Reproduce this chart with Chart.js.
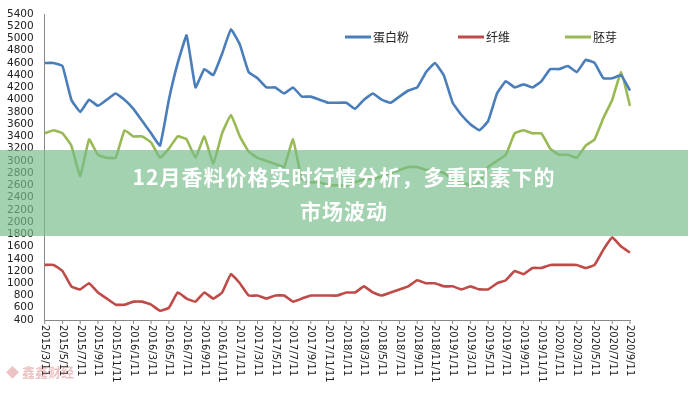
<!DOCTYPE html>
<html><head><meta charset="utf-8">
<script src="https://cdn.jsdelivr.net/npm/chart.js@4"></script>
<style>
body{margin:0;background:#fff;width:688px;height:400px;overflow:hidden;font-family:"Noto Sans CJK SC",sans-serif}
#wrap{position:relative;width:688px;height:400px}
#banner{position:absolute;left:0;top:150px;width:688px;height:86px;background:rgba(118,188,138,0.68);color:#fff;font-weight:bold;font-size:21px;text-align:center;line-height:34px;padding-top:9px;box-sizing:border-box;letter-spacing:1px}
#wm{position:absolute;left:6px;top:362px;color:rgba(200,80,80,0.35);font-size:13px;font-weight:bold}
</style></head><body>
<div id="wrap"><canvas id="c" width="688" height="400"></canvas>
<div id="banner">12月香料价格实时行情分析，多重因素下的<br>市场波动</div>
<div id="wm">◆ 鑫鑫财经</div></div>
<script>
const categories=[];for(let i=0;i<67;i++){const m=3+i;const y=2015+Math.floor((m-1)/12);const mm=((m-1)%12)+1;categories.push(y+'/'+mm+'/11');}
const seriesNames=['蛋白粉','纤维','胚芽'];
const protein=[4600,4600,4550,4000,3800,4000,3900,4000,4100,4000,3850,3650,3450,3250,4000,4600,5050,4200,4500,4400,4750,5150,4900,4450,4350,4200,4200,4100,4200,4050,4050,4000,3950,3950,3950,3850,4000,4100,4000,3950,4050,4150,4200,4450,4600,4400,3950,3750,3600,3500,3650,4100,4300,4200,4250,4200,4300,4500,4500,4550,4450,4650,4600,4350,4350,4400,4150];
const fiber=[1300,1300,1200,950,900,1000,850,750,650,650,700,700,650,550,600,850,750,700,850,750,850,1150,1000,800,800,750,800,800,700,750,800,800,800,800,850,850,950,850,800,850,900,950,1050,1000,1000,950,950,900,950,900,900,1000,1050,1200,1150,1250,1250,1300,1300,1300,1300,1250,1300,1550,1750,1600,1500];
const germ=[3450,3500,3450,3250,2750,3350,3100,3050,3050,3500,3400,3400,3300,3050,3200,3400,3350,3050,3400,2950,3450,3750,3400,3150,3050,3000,2950,2900,3350,2700,2650,2650,2600,2600,2600,2650,2700,2700,2750,2800,2850,2900,2900,2850,2850,2800,2700,2650,2600,2650,2900,3000,3100,3450,3500,3450,3450,3200,3100,3100,3050,3250,3350,3700,4000,4450,3900];
const colors=['#4a7ebb','#be4b48','#98b954'];
const legendPlugin={id:'lg',afterDraw(ch){const x=ch.ctx;const pos=[345,458,565];x.save();x.font='12px "Noto Sans CJK SC"';x.textBaseline='middle';seriesNames.forEach((n,k)=>{x.strokeStyle=colors[k];x.lineWidth=3;x.beginPath();x.moveTo(pos[k],37);x.lineTo(pos[k]+26,37);x.stroke();x.fillStyle='#222';x.fillText(n,pos[k]+28,37);});
const sx=ch.scales.x,b=ch.chartArea.bottom;x.font='10px "DejaVu Sans"';x.fillStyle='#222';x.textBaseline='middle';x.textAlign='left';
categories.forEach((c,i)=>{if(i%2)return;const px=sx.getPixelForValue(i);x.strokeStyle='#888';x.lineWidth=1;x.beginPath();x.moveTo(px,b);x.lineTo(px,b+4);x.stroke();x.save();x.translate(px,b+5);x.rotate(Math.PI/2);x.fillText(c,0,0);x.restore();});
x.restore();}};
new Chart(document.getElementById('c'),{type:'line',
data:{labels:categories,datasets:[protein,fiber,germ].map((d,k)=>({label:seriesNames[k],data:d,borderColor:colors[k],borderWidth:2.6,pointRadius:0,tension:0.1}))},
options:{responsive:false,animation:false,layout:{padding:{left:4,top:14,right:58,bottom:72}},
plugins:{legend:{display:false},tooltip:{enabled:false}},
scales:{x:{offset:false,grid:{display:false},border:{color:'#888'},ticks:{display:false}},
y:{min:400,max:5400,grid:{display:false},border:{color:'#888'},ticks:{stepSize:200,autoSkip:false,color:'#222',font:{size:10.5,family:'DejaVu Sans'},callback:v=>String(v)}}}},
plugins:[legendPlugin]});
</script></body></html>
